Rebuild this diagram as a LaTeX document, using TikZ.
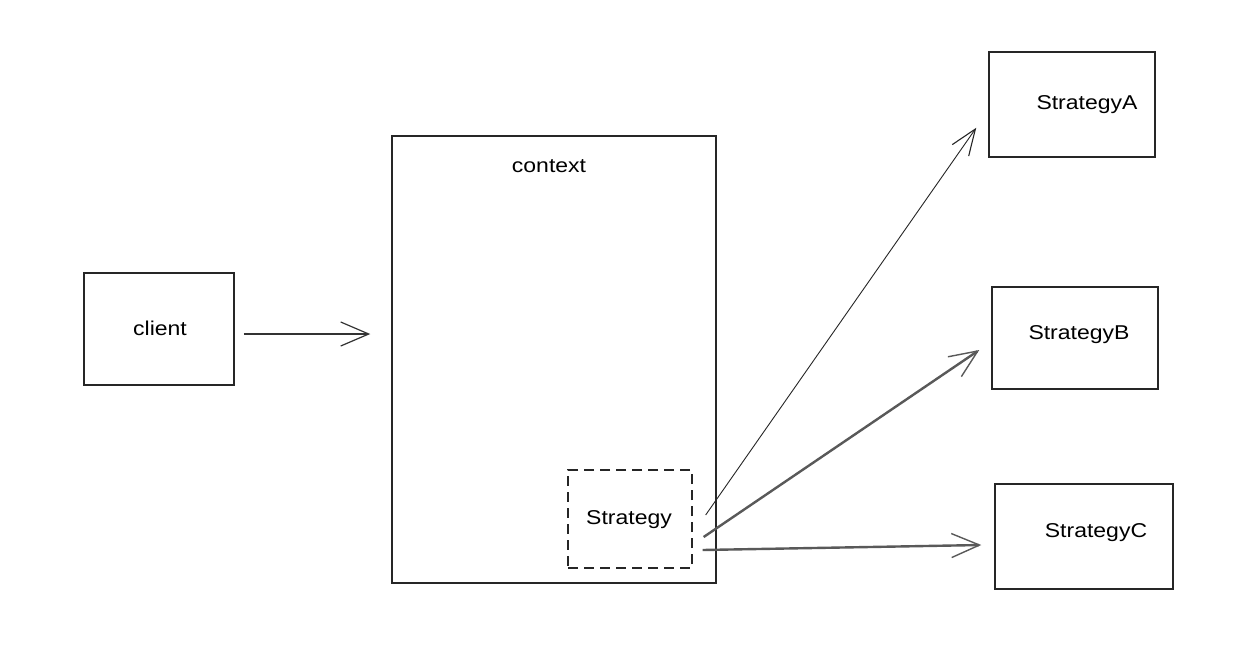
\documentclass[tikz,border=0pt]{standalone}
\usepackage{fontspec}
\setmainfont{Liberation Sans}[FakeStretch=1.15]
\usetikzlibrary{arrows.meta,calc}
\begin{document}
\begin{tikzpicture}[x=1pt,y=-1pt,
  box/.style={draw=black!85,line width=1.5pt,inner sep=0pt},
  dbox/.style={draw=black!85,line width=1.3pt,dash pattern=on 10pt off 6pt,inner sep=0pt},
  lbl/.style={font=\fontsize{20}{24}\selectfont,text=black},
  arr/.style={draw=black!80,line width=1.1pt,-{Straight Barb[length=28pt,width=24pt,line width=1.2pt]}},
  arrb/.style={draw=black!65,line width=2.4pt,-{Straight Barb[length=28pt,width=24pt,line width=1.4pt]}},
  arrt/.style={draw=black!85,line width=0.9pt,-{Straight Barb[length=26pt,width=20pt,line width=1.1pt]}}]
\useasboundingbox (0,0) rectangle (1245,651);
\fill[white] (0,0) rectangle (1245,651);
% boxes
\node[box,minimum width=150pt,minimum height=112pt] (client) at (159,329) {};
\node[lbl] at (160,328) {client};
\node[box,minimum width=324pt,minimum height=447pt] (context) at (554,359.5) {};
\node[lbl] (ctxt) at (549,166) {context};
\node[dbox,minimum width=124pt,minimum height=98pt] (s) at (630,519) {};
\node[lbl] at (629,520) {Strategy};
\node[box,minimum width=166pt,minimum height=105pt] (A) at (1072,104.5) {};
\node[lbl] at (1087,105) {StrategyA};
\node[box,minimum width=166pt,minimum height=102pt] (B) at (1075,338) {};
\node[lbl] at (1079,335) {StrategyB};
\node[box,minimum width=178pt,minimum height=105pt] (C) at (1084,536.5) {};
\node[lbl] at (1096,533) {StrategyC};
% connectors
\draw[arr] ($(client.east)+(9,5)$) -- ($(context.west)+(-21,-25.5)$);
\draw[arrt] ($(s.east)+(13,-4)$) -- ($(A.south west)+(-12,-30)$);
\draw[arrb] ($(s.east)+(11,18)$) -- ($(B.west)+(-12,12)$);
\draw[arrb] ($(s.east)+(10,31)$) -- ($(C.west)+(-13,8.5)$);
\end{tikzpicture}
\end{document}
